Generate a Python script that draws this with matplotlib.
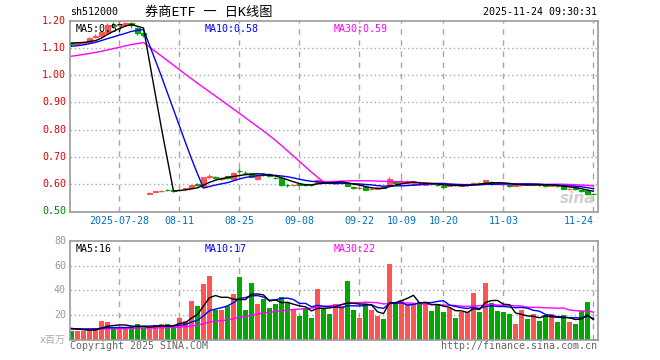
import numpy as np
import pandas as pd
import matplotlib
matplotlib.use("Agg")
import matplotlib.pyplot as plt

# ---------------- data ----------------
opens = [1.118, 1.113, 1.117, 1.122, 1.140, 1.145, 1.155, 1.183, 1.185, 1.186, 1.190, 1.175, 1.155,
         0.566, 0.572, 0.576, 0.580, 0.578, 0.578, 0.582, 0.587, 0.600, 0.591, 0.626, 0.626, 0.620,
         0.630, 0.618, 0.650, 0.643, 0.640, 0.620, 0.639, 0.638, 0.624, 0.622, 0.597, 0.596, 0.600,
         0.600, 0.598, 0.603, 0.611, 0.608, 0.605, 0.606, 0.604, 0.590, 0.587, 0.589, 0.581, 0.584,
         0.589, 0.595, 0.608, 0.605, 0.604, 0.598, 0.602, 0.599, 0.602, 0.598, 0.595, 0.594, 0.597,
         0.595, 0.597, 0.602, 0.605, 0.603, 0.610, 0.605, 0.602, 0.597, 0.594, 0.596, 0.600, 0.598,
         0.599, 0.596, 0.595, 0.594, 0.592, 0.582, 0.585, 0.578, 0.576, 0.566]
closes = [1.113, 1.118, 1.122, 1.138, 1.143, 1.160, 1.185, 1.180, 1.188, 1.190, 1.185, 1.155, 1.148,
          0.569, 0.574, 0.577, 0.579, 0.576, 0.579, 0.585, 0.596, 0.599, 0.625, 0.630, 0.624, 0.622,
          0.623, 0.642, 0.648, 0.641, 0.628, 0.633, 0.637, 0.631, 0.622, 0.597, 0.596, 0.599, 0.599,
          0.598, 0.597, 0.614, 0.609, 0.606, 0.607, 0.607, 0.595, 0.588, 0.588, 0.580, 0.583, 0.586,
          0.588, 0.620, 0.606, 0.607, 0.605, 0.605, 0.601, 0.600, 0.601, 0.597, 0.589, 0.596, 0.596,
          0.596, 0.598, 0.604, 0.604, 0.615, 0.602, 0.603, 0.601, 0.595, 0.596, 0.598, 0.599, 0.600,
          0.598, 0.594, 0.597, 0.592, 0.584, 0.583, 0.584, 0.575, 0.566, 0.565]
highs = [1.122, 1.121, 1.126, 1.140, 1.150, 1.165, 1.190, 1.195, 1.205, 1.196, 1.197, 1.178, 1.160,
         0.570, 0.576, 0.579, 0.583, 0.580, 0.582, 0.588, 0.598, 0.604, 0.628, 0.638, 0.630, 0.627,
         0.632, 0.645, 0.658, 0.648, 0.643, 0.636, 0.642, 0.640, 0.628, 0.624, 0.601, 0.602, 0.603,
         0.602, 0.601, 0.618, 0.614, 0.610, 0.611, 0.609, 0.606, 0.594, 0.592, 0.591, 0.586, 0.589,
         0.591, 0.628, 0.612, 0.620, 0.616, 0.608, 0.609, 0.603, 0.606, 0.601, 0.597, 0.599, 0.598,
         0.598, 0.601, 0.609, 0.609, 0.617, 0.612, 0.607, 0.604, 0.600, 0.599, 0.600, 0.602, 0.602,
         0.601, 0.598, 0.600, 0.596, 0.594, 0.586, 0.588, 0.580, 0.578, 0.567]
lows = [1.108, 1.110, 1.114, 1.120, 1.135, 1.142, 1.152, 1.172, 1.178, 1.180, 1.175, 1.148, 1.140,
        0.563, 0.570, 0.573, 0.575, 0.572, 0.574, 0.580, 0.585, 0.594, 0.590, 0.620, 0.619, 0.617,
        0.620, 0.616, 0.642, 0.636, 0.625, 0.617, 0.632, 0.628, 0.618, 0.595, 0.591, 0.592, 0.595,
        0.595, 0.593, 0.600, 0.605, 0.603, 0.602, 0.603, 0.593, 0.583, 0.584, 0.578, 0.578, 0.581,
        0.585, 0.592, 0.602, 0.603, 0.601, 0.596, 0.597, 0.596, 0.597, 0.594, 0.587, 0.592, 0.593,
        0.592, 0.595, 0.600, 0.600, 0.601, 0.599, 0.600, 0.598, 0.591, 0.592, 0.594, 0.596, 0.597,
        0.595, 0.591, 0.593, 0.589, 0.582, 0.579, 0.580, 0.573, 0.564, 0.564]
volumes = [7.2, 7.2, 7.5, 8.5, 9.6, 15.2, 14.4, 10.7, 10.7, 9.6, 10.7, 12.8, 9.9,
           8.5, 12.4, 12.9, 12.8, 10.7, 17.8, 15.5, 31.5, 27.2, 44.8, 51.2, 24.5, 24.0,
           27.7, 36.8, 50.4, 24.0, 45.6, 28.8, 32.8, 25.6, 28.8, 34.4, 30.4, 24.8, 19.2,
           24.8, 17.9, 40.8, 24.8, 20.8, 28.8, 27.2, 47.2, 24.0, 17.6, 28.8, 24.0, 19.2,
           16.8, 61.6, 28.8, 32.0, 28.8, 28.8, 31.0, 31.0, 23.2, 29.0, 22.4, 26.0, 17.6,
           22.4, 22.4, 38.0, 22.4, 46.0, 30.0, 23.0, 22.5, 20.8, 12.8, 24.0, 16.8, 20.8,
           15.2, 20.0, 20.8, 14.4, 20.0, 14.4, 12.8, 23.2, 30.4, 0.8]
# estimated history before the first visible day (only used for the moving averages)
prior_closes = [1.020, 1.025, 1.030, 1.028, 1.035, 1.030, 1.038, 1.040, 1.036, 1.042, 1.045, 1.036,
                1.065, 1.070, 1.075, 1.078, 1.080, 1.082, 1.085, 1.090,
                1.092, 1.095, 1.093, 1.096, 1.094, 1.112, 1.118, 1.120, 1.127]
prior_volumes = [8.5, 8.0, 9.0, 8.2, 7.8, 8.6, 8.8, 8.0, 8.4, 9.2, 8.1, 7.9, 8.7, 8.3, 8.9,
                 8.0, 8.5, 8.2, 8.8, 8.4, 9.0, 8.6, 8.1, 9.4, 10.2, 9.5, 10.5, 9.8, 9.6]

tick_dates = ["2025-07-28", "2025-08-11", "2025-08-25", "2025-09-08", "2025-09-22",
              "2025-10-09", "2025-10-20", "2025-11-03", "2025-11-24"]
tick_labels = ["2025-07-28", "08-11", "08-25", "09-08", "09-22", "10-09", "10-20", "11-03", "11-24"]
price_ticks = [0.50, 0.60, 0.70, 0.80, 0.90, 1.00, 1.10, 1.20]
vol_ticks = [20, 40, 60, 80]

# trading calendar (weekdays minus the national-day holiday)
days = pd.bdate_range("2025-07-16", "2025-11-24")
days = days[(days < "2025-10-01") | (days > "2025-10-08")]
dates = [d.strftime("%Y-%m-%d") for d in days]
n = len(opens)
x = np.arange(n)

RED = "#ff5454"
GREEN = "#00a800"
GRID = "#a8a8a8"
MONO = "DejaVu Sans Mono"

def ma(hist, vals, w):
    s = pd.Series(list(hist) + list(vals))
    return s.rolling(w).mean().to_numpy()[len(hist):]

ma5, ma10, ma30 = ma(prior_closes, closes, 5), ma(prior_closes, closes, 10), ma(prior_closes, closes, 30)
vma5, vma10, vma30 = ma(prior_volumes, volumes, 5), ma(prior_volumes, volumes, 10), ma(prior_volumes, volumes, 30)

W, H = 660, 360
fig = plt.figure(figsize=(W / 100, H / 100), dpi=100)
fig.patch.set_facecolor("white")

def px_axes(l, t, r, b):
    return fig.add_axes([l / W, 1 - b / H, (r - l) / W, (b - t) / H])

axp = px_axes(70, 20.7, 597.5, 211.5)
axv = px_axes(70, 240.7, 597.5, 340)

xl = (-0.25, n - 1 + 0.67)
tick_idx = [dates.index(d) for d in tick_dates]

for ax in (axp, axv):
    ax.set_xlim(*xl)
    for s in ax.spines.values():
        s.set_color("#999999")
        s.set_linewidth(1.2)
    ax.set_xticks([])
    ax.set_yticks([])
    for ti in tick_idx:
        ax.axvline(ti, color=GRID, lw=1, ls=(0, (4, 4)), zorder=0)

# price panel
axp.set_ylim(0.50, 1.20)
for p in price_ticks[1:-1]:
    axp.axhline(p, color=GRID, lw=1, ls=(0, (1, 2)), zorder=0)

colors = [RED if c >= o else GREEN for o, c in zip(opens, closes)]
axp.vlines(x, lows, highs, colors=colors, lw=1, zorder=2)
bodies = np.array(closes) - np.array(opens)
axp.bar(x, bodies, bottom=opens, width=0.8, color=colors, edgecolor=colors, lw=0.8, zorder=3)

axp.plot(x, ma30, color="#ff00ff", lw=1, zorder=4)
axp.plot(x, ma10, color="#0000ff", lw=1, zorder=4)
axp.plot(x, ma5, color="black", lw=1, zorder=4)

fig.canvas.draw()
def data_to_fig_y(ax, v):
    return ax.transData.transform((0, v))[1] / H

for p in price_ticks:
    col = "#e00000" if p > 0.55 else "#008000"
    fig.text(66 / W, data_to_fig_y(axp, p), f"{p:.2f}", ha="right", va="center",
             family=MONO, fontsize=7.2, color=col)

axp.text(0.01, 0.985, f"MA5:{ma5[-1]:.2f}", transform=axp.transAxes, ha="left", va="top",
         family=MONO, fontsize=7.2, color="black", zorder=6)
axp.text(0.255, 0.985, f"MA10:{ma10[-1]:.2f}", transform=axp.transAxes, ha="left", va="top",
         family=MONO, fontsize=7.2, color="#0000ff", zorder=6)
axp.text(0.50, 0.985, f"MA30:{ma30[-1]:.2f}", transform=axp.transAxes, ha="left", va="top",
         family=MONO, fontsize=7.2, color="#ff00ff", zorder=6)
axp.text(0.995, 0.03, "sina", transform=axp.transAxes, ha="right", va="bottom",
         fontsize=11, color="#d0d0d0", style="italic", weight="bold", zorder=1)

# date labels
for ti, lab in zip(tick_idx, tick_labels):
    xf = axp.transData.transform((ti, 0))[0] / W
    ha = "right" if ti == n - 1 else "center"
    fig.text(xf, 1 - 221 / H, lab, ha=ha, va="center", family=MONO, fontsize=7.2, color="#0070c0")

# volume panel
axv.set_ylim(0, 80)
for v in vol_ticks[:-1]:
    axv.axhline(v, color=GRID, lw=1, ls=(0, (1, 2)), zorder=0)
axv.bar(x, volumes, width=0.83, color=colors, lw=0, zorder=2)
axv.plot(x, vma30, color="#ff00ff", lw=1, zorder=4)
axv.plot(x, vma10, color="#0000ff", lw=1, zorder=4)
axv.plot(x, vma5, color="black", lw=1, zorder=4)

for v in vol_ticks:
    fig.text(66 / W, data_to_fig_y(axv, v), f"{v}", ha="right", va="center",
             family=MONO, fontsize=7.2, color="#999999")
fig.text(66 / W, data_to_fig_y(axv, 0), "x百万", ha="right", va="center",
         family=[MONO, "Noto Sans CJK SC"], fontsize=7.2, color="#aaaaaa")

axv.text(0.01, 0.97, f"MA5:{vma5[-1]:.0f}", transform=axv.transAxes, ha="left", va="top",
         family=MONO, fontsize=7.2, color="black", zorder=6)
axv.text(0.255, 0.97, f"MA10:{vma10[-1]:.0f}", transform=axv.transAxes, ha="left", va="top",
         family=MONO, fontsize=7.2, color="#0000ff", zorder=6)
axv.text(0.50, 0.97, f"MA30:{vma30[-1]:.0f}", transform=axv.transAxes, ha="left", va="top",
         family=MONO, fontsize=7.2, color="#ff00ff", zorder=6)

# header / footer
fig.text(70 / W, 1 - 12 / H, "sh512000", ha="left", va="center", family=MONO, fontsize=7.2, color="black")
fig.text(209 / W, 1 - 12 / H, "券商ETF 一 日K线图", ha="center", va="center",
         family=[MONO, "Noto Sans CJK SC"], fontsize=9.5, color="black")
fig.text(597 / W, 1 - 12 / H, "2025-11-24 09:30:31", ha="right", va="center",
         family=MONO, fontsize=7.2, color="black")
fig.text(70 / W, 1 - 346 / H, "Copyright 2025 SINA.COM", ha="left", va="center",
         family=MONO, fontsize=7.2, color="#666666")
fig.text(597 / W, 1 - 346 / H, "http://finance.sina.com.cn", ha="right", va="center",
         family=MONO, fontsize=7.2, color="#666666")

fig.savefig("out.png", dpi=100)
